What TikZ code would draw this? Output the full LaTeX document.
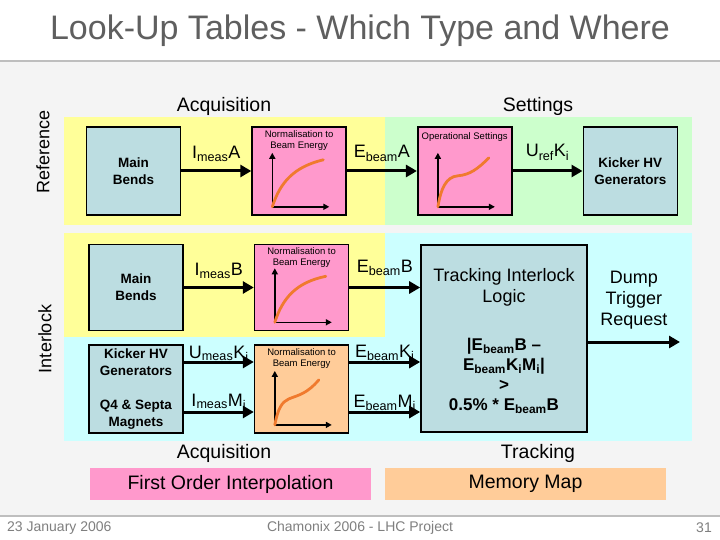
\documentclass[tikz,border=0pt]{standalone}
\usepackage{fontspec}
\setmainfont{Liberation Sans}
\usetikzlibrary{arrows.meta, positioning, calc}
\definecolor{LutYellow}{HTML}{FFFF99}
\definecolor{LutGreen}{HTML}{CCFFCC}
\definecolor{LutCyan}{HTML}{CCFFFF}
\definecolor{LutPink}{HTML}{FF99CC}
\definecolor{LutPeach}{HTML}{FFCC99}
\definecolor{LutBox}{HTML}{BCDDE1}
\definecolor{LutCurve}{HTML}{F07A2E}
\definecolor{LutTitle}{HTML}{5F5F5F}
\definecolor{LutRule}{HTML}{BEBEBE}
\definecolor{LutFoot}{HTML}{7F7F7F}
\definecolor{LutBack}{HTML}{F4F4F4}
\newcommand{\lutTitle}{\fontsize{34}{38}\selectfont}
\newcommand{\lutHead}{\fontsize{19.5}{22}\selectfont}
\newcommand{\lutSide}{\fontsize{18}{21}\selectfont}
\newcommand{\lutUnit}{\bfseries\fontsize{13.5}{17}\selectfont}
\newcommand{\lutTag}{\fontsize{18}{21}\selectfont}
\newcommand{\lutSmall}{\fontsize{9.5}{11}\selectfont}
\newcommand{\lutLogic}{\fontsize{18}{21}\selectfont}
\newcommand{\lutRuleFont}{\bfseries\fontsize{17}{20}\selectfont}
\newcommand{\lutFoot}{\fontsize{14}{16}\selectfont}
% small transfer curve inside a look-up box
\newcommand{\lutplot}[2]{%
  \begin{scope}[shift={($(#1.south west)+(21,-9)$)}, x=1pt, y=1pt]
    \draw[axis] (0,0) -- (0,54);
    \draw[axis] (0,0) -- (57,0);
    \draw[trend] (0,0) #2;
  \end{scope}}

\begin{document}
\begin{tikzpicture}[x=1pt, y=-1pt, node distance=70pt,
  unit/.style={draw, line width=1.6pt, fill=LutBox, minimum width=94pt, minimum height=88pt, align=center, font=\lutUnit},
  lut/.style={unit, fill=LutPink},
  caption/.style={inner sep=0pt, align=center, font=\lutSmall},
  flow/.style={line width=3pt, -{Triangle[length=11pt, width=12pt]}},
  axis/.style={line width=1.6pt, -{Triangle[length=6pt, width=6pt]}},
  trend/.style={line width=2.8pt, LutCurve, line cap=round},
  tag/.style={midway, anchor=base, inner sep=0pt, font=\lutTag},
  head/.style={anchor=base, inner sep=0pt, font=\lutHead},
  band/.style={minimum width=281pt, minimum height=32pt, inner sep=0pt, font=\lutHead},
  foot/.style={inner sep=0pt, text=LutFoot, font=\lutFoot}]

  % page
  \fill[white] (0,0) rectangle (720,540);
  \useasboundingbox (0,0) rectangle (720,540);
  \fill[LutBack] (0,62) rectangle (720,515);
  \draw[LutRule, line width=2pt] (0,61) -- (720,61);
  \draw[LutRule, line width=2pt] (0,516) -- (720,516);
  \node[font=\lutTitle, text=LutTitle] (title) at (360,31) {Look-Up Tables - Which Type and Where};

  % zones
  \fill[LutYellow] (64,117) rectangle (385,225);
  \fill[LutGreen] (385,117) rectangle (692,225);
  \fill[LutCyan] (64,233) rectangle (692,441);
  \fill[LutYellow] (64,233) rectangle (385,337);

  \node[rotate=90, inner sep=0pt, font=\lutSide] (refSide) at (43,152) {Reference};
  \node[rotate=90, inner sep=0pt, font=\lutSide] (ilSide) at (45,339) {Interlock};
  \node[head] (acqTop) at (224,112) {Acquisition};
  \node[head] (setTop) at (538,112) {Settings};
  \node[head] (acqBot) at (224,458) {Acquisition};
  \node[head] (trkBot) at (538,458) {Tracking};

  % reference chain
  \node[unit] (refMB) at (133.5,171) {Main\\Bends};
  \node[lut, right=of refMB] (refNorm) {};
  \node[lut, right=of refNorm] (refOp) {};
  \node[unit, right=of refOp] (refKick) {Kicker HV\\Generators};
  \node[caption, below=4pt of refNorm.north] (refNormT) {Normalisation to\\Beam Energy};
  \node[caption, below=6pt of refOp.north] (refOpT) {Operational Settings};
  \lutplot{refNorm}{.. controls (8,25) and (22,40) .. (51,47)}
  \lutplot{refOp}{.. controls (3,18) and (8,30) .. (20,31) .. controls (32,32) and (40,38) .. (51,49)}

  \draw[flow] (refMB) -- node[tag, yshift=12pt] {I\textsubscript{meas}A} (refNorm);
  \draw[flow] (refNorm) -- node[tag, yshift=13pt] {E\textsubscript{beam}A} (refOp);
  \draw[flow] (refOp) -- node[tag, yshift=14pt] {U\textsubscript{ref}K\textsubscript{i}} (refKick);

  % interlock chain
  \node[unit, minimum height=86pt] (ilMB) at (136,287.5) {Main\\Bends};
  \node[lut, minimum height=86pt, right=of ilMB] (ilNorm) {};
  \node[unit, below=13pt of ilMB] (ilKick) {Kicker HV\\Generators\\[17pt]Q4 \& Septa\\Magnets};
  \node[lut, fill=LutPeach, right=of ilKick] (ilNorm2) {};
  \node[unit, minimum width=166pt, minimum height=187pt] (track) at (504,338.5) {};
  \node[caption, below=4pt of ilNorm.north] (ilNormT) {Normalisation to\\Beam Energy};
  \node[caption, below=4pt of ilNorm2.north] (ilNorm2T) {Normalisation to\\Beam Energy};
  \lutplot{ilNorm}{.. controls (8,25) and (22,40) .. (51,46)}
  \lutplot{ilNorm2}{.. controls (3,16) and (7,23) .. (14,26) .. controls (24,30) and (32,31) .. (44,45)}
  \node[inner sep=0pt, align=center, font=\lutLogic, below=24pt of track.north] (trackHead) {Tracking Interlock\\Logic};
  \node[inner sep=0pt, align=center, font=\lutRuleFont, below=32pt of trackHead] (trackRule)
    {|E\textsubscript{beam}B –\\E\textsubscript{beam}K\textsubscript{i}M\textsubscript{i}|\\>\\0.5\% * E\textsubscript{beam}B};

  \coordinate (kRow) at (0,362);
  \coordinate (mRow) at (0,412);
  \coordinate (dumpEnd) at (680,342);
  \draw[flow] (ilMB) -- node[tag, yshift=12pt] {I\textsubscript{meas}B} (ilNorm);
  \draw[flow] (ilNorm.east) -- node[tag, yshift=15pt] {E\textsubscript{beam}B} (track.west |- ilNorm.east);
  \draw[flow] (ilKick.east |- kRow) -- node[tag, yshift=4pt] {U\textsubscript{meas}K\textsubscript{i}} (ilNorm2.west |- kRow);
  \draw[flow] (ilKick.east |- mRow) -- node[tag, yshift=6pt] {I\textsubscript{meas}M\textsubscript{i}} (ilNorm2.west |- mRow);
  \draw[flow] (ilNorm2.east |- kRow) -- node[tag, yshift=5pt] {E\textsubscript{beam}K\textsubscript{i}} (track.west |- kRow);
  \draw[flow] (ilNorm2.east |- mRow) -- node[tag, yshift=5pt] {E\textsubscript{beam}M\textsubscript{i}} (track.west |- mRow);
  \draw[flow] (track.east |- dumpEnd) -- node[midway, above, yshift=8pt, align=center, font=\lutLogic] {Dump\\Trigger\\Request} (dumpEnd);

  % table types
  \node[band, fill=LutPink] (interp) at (230.5,484) {First Order Interpolation};
  \node[band, fill=LutPeach] (memmap) at (525.5,484) {Memory Map};

  % footer
  \node[foot, anchor=west] (date) at (7,528) {23 January 2006};
  \node[foot] (event) at (360,528) {Chamonix 2006 - LHC Project};
  \node[foot, anchor=east] (page) at (712,528) {31};
\end{tikzpicture}
\end{document}
